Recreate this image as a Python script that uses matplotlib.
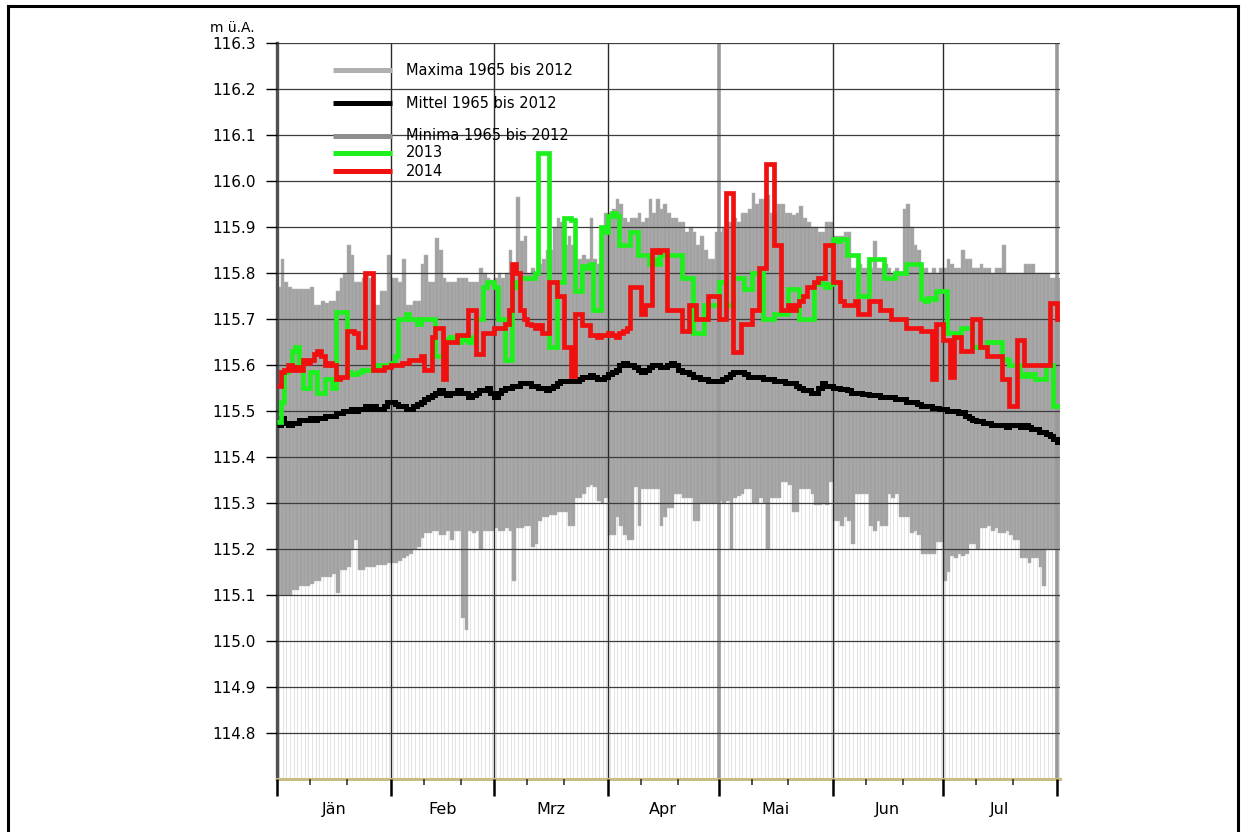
import numpy as np
import matplotlib
matplotlib.use("Agg")
import matplotlib.pyplot as plt
from matplotlib.lines import Line2D
import matplotlib.transforms as mtransforms

# daily values, 1 Jan .. 1 Aug (213 days), water level in m ü.A.
maxima = [
    115.77, 115.83, 115.78, 115.77, 115.765, 115.765, 115.765, 115.765, 115.765, 115.77,
    115.73, 115.73, 115.74, 115.735, 115.74, 115.74, 115.76, 115.79, 115.80, 115.86,
    115.84, 115.78, 115.78, 115.79, 115.80, 115.79, 115.73, 115.73, 115.76, 115.76,
    115.84, 115.79, 115.79, 115.78, 115.83, 115.73, 115.73, 115.74, 115.74, 115.82,
    115.84, 115.78, 115.78, 115.875, 115.85, 115.79, 115.78, 115.78, 115.78, 115.79,
    115.79, 115.79, 115.78, 115.78, 115.78, 115.81, 115.80, 115.79, 115.785, 115.79,
    115.80, 115.79, 115.80, 115.85, 115.80, 115.965, 115.87, 115.88, 115.80, 115.81,
    115.80, 115.82, 115.83, 115.85, 115.85, 115.90, 115.92, 115.91, 115.86, 115.88,
    115.86, 115.83, 115.83, 115.84, 115.83, 115.92, 115.83, 115.82, 115.89, 115.93,
    115.93, 115.94, 115.96, 115.95, 115.92, 115.91, 115.92, 115.92, 115.93, 115.91,
    115.92, 115.96, 115.93, 115.96, 115.94, 115.95, 115.93, 115.92, 115.92, 115.91,
    115.91, 115.89, 115.90, 115.89, 115.86, 115.88, 115.85, 115.83, 115.83, 115.89,
    115.89, 115.90, 115.91, 115.91, 115.92, 115.91, 115.93, 115.93, 115.94, 115.975,
    115.95, 115.96, 115.96, 115.97, 115.93, 115.93, 115.95, 115.95, 115.93, 115.93,
    115.925, 115.93, 115.945, 115.92, 115.91, 115.90, 115.90, 115.89, 115.89, 115.91,
    115.91, 115.88, 115.88, 115.88, 115.89, 115.89, 115.81, 115.81, 115.82, 115.81,
    115.81, 115.81, 115.87, 115.81, 115.81, 115.82, 115.81, 115.80, 115.81, 115.80,
    115.94, 115.95, 115.90, 115.86, 115.85, 115.81, 115.81, 115.80, 115.81, 115.80,
    115.81, 115.81, 115.83, 115.82, 115.81, 115.81, 115.85, 115.83, 115.83, 115.81,
    115.81, 115.82, 115.81, 115.81, 115.80, 115.81, 115.81, 115.86, 115.80, 115.80,
    115.80, 115.80, 115.80, 115.82, 115.82, 115.82, 115.80, 115.80, 115.80, 115.80,
    115.79, 115.79, 115.79,
]

minima = [
    115.10, 115.10, 115.10, 115.10, 115.11, 115.11, 115.12, 115.12, 115.12, 115.125,
    115.13, 115.13, 115.14, 115.14, 115.14, 115.145, 115.105, 115.155, 115.155, 115.16,
    115.20, 115.22, 115.155, 115.155, 115.16, 115.16, 115.16, 115.165, 115.165, 115.165,
    115.17, 115.17, 115.17, 115.175, 115.18, 115.185, 115.19, 115.20, 115.205, 115.225,
    115.235, 115.235, 115.24, 115.24, 115.23, 115.23, 115.24, 115.22, 115.24, 115.24,
    115.05, 115.025, 115.24, 115.235, 115.24, 115.20, 115.24, 115.24, 115.24, 115.245,
    115.24, 115.24, 115.245, 115.24, 115.13, 115.245, 115.245, 115.25, 115.25, 115.205,
    115.21, 115.26, 115.27, 115.27, 115.275, 115.275, 115.28, 115.28, 115.28, 115.25,
    115.25, 115.31, 115.31, 115.32, 115.335, 115.34, 115.335, 115.305, 115.30, 115.31,
    115.23, 115.23, 115.27, 115.25, 115.23, 115.22, 115.22, 115.335, 115.25, 115.33,
    115.33, 115.33, 115.33, 115.33, 115.25, 115.27, 115.29, 115.29, 115.32, 115.32,
    115.31, 115.31, 115.31, 115.26, 115.26, 115.30, 115.30, 115.30, 115.30, 115.30,
    115.305, 115.30, 115.305, 115.20, 115.31, 115.315, 115.32, 115.33, 115.33, 115.30,
    115.30, 115.31, 115.30, 115.20, 115.31, 115.31, 115.31, 115.345, 115.345, 115.34,
    115.28, 115.28, 115.33, 115.33, 115.33, 115.32, 115.295, 115.295, 115.30, 115.295,
    115.345, 115.26, 115.26, 115.25, 115.27, 115.26, 115.21, 115.32, 115.32, 115.32,
    115.32, 115.25, 115.24, 115.26, 115.25, 115.25, 115.32, 115.31, 115.32, 115.27,
    115.27, 115.27, 115.235, 115.24, 115.23, 115.19, 115.19, 115.19, 115.19, 115.215,
    115.215, 115.13, 115.15, 115.185, 115.18, 115.19, 115.185, 115.19, 115.21, 115.21,
    115.20, 115.245, 115.245, 115.25, 115.24, 115.245, 115.235, 115.235, 115.24, 115.23,
    115.22, 115.22, 115.18, 115.18, 115.17, 115.18, 115.18, 115.16, 115.12, 115.20,
    115.20, 115.20, 115.20,
]

mittel = [
    115.47, 115.485, 115.475, 115.47, 115.475, 115.475, 115.48, 115.48, 115.48, 115.485,
    115.48, 115.485, 115.485, 115.49, 115.49, 115.49, 115.495, 115.495, 115.50, 115.50,
    115.505, 115.50, 115.505, 115.505, 115.51, 115.505, 115.51, 115.505, 115.505, 115.51,
    115.52, 115.52, 115.515, 115.51, 115.51, 115.505, 115.505, 115.51, 115.515, 115.52,
    115.525, 115.53, 115.535, 115.54, 115.545, 115.54, 115.535, 115.54, 115.54, 115.545,
    115.54, 115.54, 115.53, 115.535, 115.54, 115.545, 115.545, 115.55, 115.54, 115.53,
    115.54, 115.545, 115.55, 115.55, 115.555, 115.555, 115.56, 115.56, 115.56, 115.555,
    115.555, 115.55, 115.55, 115.545, 115.55, 115.555, 115.56, 115.565, 115.565, 115.565,
    115.565, 115.565, 115.57, 115.575, 115.575, 115.578, 115.575, 115.57, 115.57, 115.575,
    115.58, 115.585, 115.59, 115.60, 115.605, 115.60, 115.60, 115.595, 115.59, 115.585,
    115.59, 115.595, 115.60, 115.60, 115.595, 115.595, 115.60, 115.605, 115.60, 115.59,
    115.585, 115.585, 115.58, 115.575, 115.575, 115.57, 115.57, 115.565, 115.565, 115.565,
    115.565, 115.57, 115.575, 115.58, 115.585, 115.585, 115.585, 115.58, 115.575, 115.575,
    115.575, 115.575, 115.57, 115.57, 115.57, 115.565, 115.565, 115.565, 115.56, 115.56,
    115.56, 115.555, 115.55, 115.545, 115.545, 115.54, 115.54, 115.55, 115.56, 115.555,
    115.555, 115.55, 115.55, 115.548, 115.548, 115.545, 115.54, 115.54, 115.54, 115.536,
    115.536, 115.535, 115.535, 115.535, 115.53, 115.53, 115.53, 115.53, 115.525, 115.525,
    115.525, 115.52, 115.52, 115.52, 115.515, 115.51, 115.51, 115.51, 115.507, 115.507,
    115.505, 115.505, 115.50, 115.50, 115.50, 115.495, 115.497, 115.49, 115.485, 115.48,
    115.478, 115.478, 115.475, 115.475, 115.47, 115.47, 115.47, 115.47, 115.465, 115.47,
    115.47, 115.47, 115.465, 115.47, 115.465, 115.46, 115.46, 115.455, 115.455, 115.45,
    115.445, 115.44, 115.433,
]

y2013 = [
    115.476, 115.52, 115.585, 115.60, 115.63, 115.64, 115.60, 115.55, 115.55, 115.585,
    115.585, 115.54, 115.54, 115.57, 115.57, 115.55, 115.715, 115.715, 115.715, 115.585,
    115.58, 115.58, 115.585, 115.59, 115.59, 115.59, 115.595, 115.60, 115.60, 115.60,
    115.60, 115.605, 115.62, 115.70, 115.70, 115.71, 115.70, 115.70, 115.69, 115.70,
    115.70, 115.70, 115.70, 115.62, 115.62, 115.65, 115.656, 115.66, 115.655, 115.65,
    115.66, 115.655, 115.65, 115.66, 115.70, 115.70, 115.77, 115.78, 115.78, 115.77,
    115.70, 115.70, 115.61, 115.61, 115.77, 115.78, 115.79, 115.79, 115.79, 115.79,
    115.80, 116.06, 116.06, 116.06, 115.64, 115.64, 115.78, 115.78, 115.92, 115.92,
    115.915, 115.76, 115.76, 115.815, 115.81, 115.82, 115.72, 115.72, 115.90, 115.89,
    115.925, 115.93, 115.925, 115.86, 115.86, 115.86, 115.89, 115.89, 115.84, 115.84,
    115.84, 115.82, 115.83, 115.82, 115.84, 115.84, 115.84, 115.84, 115.84, 115.84,
    115.79, 115.79, 115.79, 115.67, 115.67, 115.67, 115.73, 115.73, 115.73, 115.73,
    115.78, 115.78, 115.73, 115.73, 115.79, 115.79, 115.79, 115.765, 115.765, 115.80,
    115.80, 115.80, 115.70, 115.70, 115.70, 115.71, 115.71, 115.71, 115.71, 115.765,
    115.765, 115.765, 115.70, 115.70, 115.70, 115.70, 115.775, 115.78, 115.775, 115.77,
    115.775, 115.874, 115.87, 115.875, 115.874, 115.84, 115.84, 115.84, 115.75, 115.75,
    115.75, 115.83, 115.83, 115.83, 115.83, 115.79, 115.79, 115.79, 115.80, 115.80,
    115.80, 115.82, 115.82, 115.82, 115.82, 115.744, 115.74, 115.745, 115.744, 115.76,
    115.76, 115.76, 115.67, 115.67, 115.67, 115.67, 115.68, 115.68, 115.68, 115.64,
    115.64, 115.64, 115.64, 115.65, 115.65, 115.65, 115.65, 115.613, 115.61, 115.60,
    115.60, 115.60, 115.576, 115.58, 115.576, 115.58, 115.57, 115.57, 115.57, 115.60,
    115.60, 115.51, 115.51,
]

y2014 = [
    115.555, 115.585, 115.59, 115.60, 115.59, 115.595, 115.59, 115.61, 115.605, 115.61,
    115.625, 115.63, 115.62, 115.60, 115.605, 115.60, 115.57, 115.575, 115.575, 115.674,
    115.674, 115.67, 115.64, 115.64, 115.80, 115.80, 115.59, 115.59, 115.59, 115.595,
    115.595, 115.60, 115.60, 115.60, 115.605, 115.605, 115.61, 115.61, 115.61, 115.62,
    115.59, 115.59, 115.66, 115.68, 115.68, 115.57, 115.65, 115.65, 115.65, 115.665,
    115.665, 115.665, 115.72, 115.72, 115.625, 115.625, 115.67, 115.67, 115.67, 115.68,
    115.68, 115.68, 115.69, 115.72, 115.82, 115.80, 115.72, 115.70, 115.69, 115.686,
    115.68, 115.686, 115.67, 115.67, 115.78, 115.78, 115.75, 115.75, 115.64, 115.64,
    115.576, 115.71, 115.71, 115.686, 115.686, 115.665, 115.665, 115.66, 115.665, 115.665,
    115.67, 115.665, 115.66, 115.67, 115.675, 115.68, 115.77, 115.77, 115.77, 115.71,
    115.73, 115.73, 115.85, 115.845, 115.85, 115.85, 115.72, 115.72, 115.72, 115.72,
    115.675, 115.675, 115.73, 115.73, 115.70, 115.70, 115.70, 115.75, 115.75, 115.75,
    115.70, 115.70, 115.975, 115.975, 115.628, 115.628, 115.69, 115.69, 115.69, 115.72,
    115.72, 115.81, 115.81, 116.037, 116.037, 115.86, 115.86, 115.72, 115.72, 115.73,
    115.72, 115.73, 115.74, 115.75, 115.77, 115.77, 115.78, 115.79, 115.79, 115.86,
    115.86, 115.78, 115.78, 115.74, 115.73, 115.73, 115.73, 115.74, 115.71, 115.71,
    115.71, 115.74, 115.74, 115.74, 115.72, 115.72, 115.72, 115.70, 115.70, 115.70,
    115.70, 115.68, 115.68, 115.68, 115.68, 115.675, 115.675, 115.675, 115.57, 115.69,
    115.69, 115.655, 115.655, 115.575, 115.66, 115.66, 115.63, 115.63, 115.63, 115.70,
    115.70, 115.64, 115.64, 115.62, 115.62, 115.62, 115.62, 115.57, 115.57, 115.51,
    115.51, 115.655, 115.655, 115.60, 115.60, 115.60, 115.60, 115.60, 115.60, 115.60,
    115.735, 115.735, 115.70,
]

month_names = ["Jän", "Feb", "Mrz", "Apr", "Mai", "Jun", "Jul"]
month_starts = [0, 31, 59, 90, 120, 151, 181, 212]
y_ticks = [114.8, 114.9, 115.0, 115.1, 115.2, 115.3, 115.4, 115.5,
           115.6, 115.7, 115.8, 115.9, 116.0, 116.1, 116.2, 116.3]

n = len(maxima)
days = np.arange(n)
edges = np.arange(n + 1)
ymin, ymax = 114.7, 116.3

fig = plt.figure(figsize=(12.46, 8.32), dpi=100)
ax = fig.add_axes([277 / 1246, 1 - 779 / 832, 783 / 1246, 736 / 832])

# faint daily lines below the minima, then the gray min-max bars
ax.vlines(days + 0.5, ymin, minima, color="#dedede", lw=0.6, zorder=0.5)
ax.bar(days + 0.5, np.array(maxima) - np.array(minima), bottom=minima, width=1.0,
       color="#a2a2a2", edgecolor="#b5b5b5", linewidth=0.35, zorder=1)

ax.set_xlim(0, 212.8)
ax.set_ylim(ymin, ymax)

# grid
ax.set_axisbelow(False)
ax.set_yticks(y_ticks)
ax.set_yticklabels(["%.1f" % v for v in y_ticks])
ax.grid(axis="y", color="#3c3c3c", lw=0.9)
for m in month_starts[1:]:
    if m in (120, 212):
        ax.axvline(m, color="#9a9a9a", lw=2.6, zorder=2.4)
    else:
        ax.axvline(m, color="#2a2a2a", lw=1.0, zorder=2.4)

# data lines
ax.stairs(mittel, edges, baseline=None, color="black", lw=3.6, zorder=3)
ax.stairs(y2013, edges, baseline=None, color="#1ef01e", lw=3.4, zorder=4)
ax.stairs(y2014, edges, baseline=None, color="#f01010", lw=3.4, zorder=5)

# axes styling
for s in ("top", "right"):
    ax.spines[s].set_visible(False)
ax.spines["left"].set_color("#505050")
ax.spines["left"].set_linewidth(2.4)
ax.spines["bottom"].set_color("#c9bd84")
ax.spines["bottom"].set_linewidth(2.2)

ax.tick_params(axis="y", direction="out", length=8, width=1.0, color="black",
               labelsize=11, pad=7)
ax.set_xticks(month_starts)
ax.set_xticklabels([])
minor = [m + d for m in month_starts[:-1] for d in (9, 19)]
ax.set_xticks(minor, minor=True)
ax.tick_params(axis="x", which="major", direction="out", length=12, width=1.8, color="black")
ax.tick_params(axis="x", which="minor", direction="out", length=4, width=1.2, color="#333333")

trans = mtransforms.blended_transform_factory(ax.transData, ax.transAxes)
for i, name in enumerate(month_names):
    mid = (month_starts[i] + month_starts[i + 1]) / 2
    ax.text(mid, -0.042, name, transform=trans, ha="center", va="center", fontsize=11.5)

# unit label, sits just above the top tick label
fig.text(210 / 1246, 1 - 28 / 832, "m ü.A.", ha="left", va="center", fontsize=10)

# legend drawn by hand
leg = [
    ("Maxima 1965 bis 2012", "#b0b0b0", 0.963),
    ("Mittel 1965 bis 2012", "black", 0.918),
    ("Minima 1965 bis 2012", "#8e8e8e", 0.874),
    ("2013", "#1ef01e", 0.851),
    ("2014", "#f01010", 0.826),
]
for label, col, yy in leg:
    ax.plot([0.0715, 0.147], [yy, yy], transform=ax.transAxes, color=col, lw=3.6,
            solid_capstyle="butt", zorder=6, clip_on=False)
    ax.text(0.165, yy, label, transform=ax.transAxes, ha="left", va="center",
            fontsize=10.5, zorder=6)

# outer frame of the picture
fr = dict(color="black", lw=2.2, transform=fig.transFigure)
fig.add_artist(Line2D([8 / 1246, 1238 / 1246], [1 - 6 / 832, 1 - 6 / 832], **fr))
fig.add_artist(Line2D([8 / 1246, 8 / 1246], [1 - 6 / 832, 0], **fr))
fig.add_artist(Line2D([1238 / 1246, 1238 / 1246], [1 - 6 / 832, 0], **fr))

fig.savefig("out.png", dpi=100, facecolor="white")
